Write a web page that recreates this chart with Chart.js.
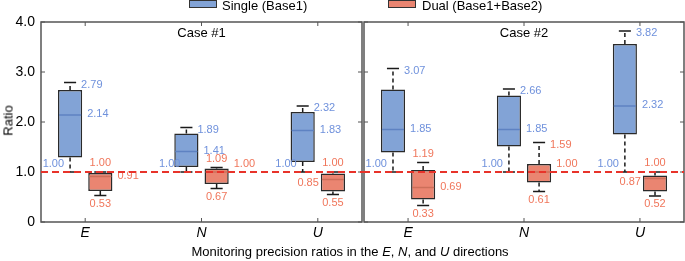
<!DOCTYPE html>
<html>
<head>
<meta charset="utf-8">
<script src="https://cdn.jsdelivr.net/npm/chart.js@4"></script>
<style>
  html, body { margin:0; padding:0; background:#fff; }
  body { width:685px; height:261px; position:relative; overflow:hidden; font-family:"Liberation Sans", Arial, sans-serif; color:#000; }
  canvas { position:absolute; top:0; }
  .t { position:absolute; white-space:nowrap; font-size:13px; line-height:15px; }
  .lgbox { position:absolute; top:0; width:26px; height:6px; border:1px solid #333; }
</style>
</head>
<body>
<canvas id="c1" width="363" height="261" style="left:0px"></canvas>
<canvas id="c2" width="322" height="261" style="left:363px"></canvas>

<div class="lgbox" style="left:189px;background:#82a3d6"></div>
<div class="t" style="left:222px;top:-2px">Single (Base1)</div>
<div class="lgbox" style="left:388px;background:#ea8571"></div>
<div class="t" style="left:422px;top:-2px">Dual (Base1+Base2)</div>

<div class="t" style="left:41px;width:321px;text-align:center;top:25px">Case #1</div>
<div class="t" style="left:364px;width:320px;text-align:center;top:25px">Case #2</div>
<div class="t" style="left:-22px;width:60px;text-align:center;top:113px;transform:rotate(-90deg)">Ratio</div>
<div class="t" style="left:0;width:700px;text-align:center;top:244px">Monitoring precision ratios in the <i>E</i>, <i>N</i>, and <i>U</i> directions</div>

<script>
// ---------- data ----------
const categories = ['E', 'N', 'U'];
const yTickLabels = ['0', '1.0', '2.0', '3.0', '4.0'];

// Case #1
const case1SingleMin = [1.00, 1.00, 1.00];
const case1SingleQ1  = [1.29, 1.10, 1.20];
const case1SingleMed = [2.14, 1.41, 1.83];
const case1SingleQ3  = [2.64, 1.77, 2.20];
const case1SingleMax = [2.79, 1.89, 2.32];

const case1DualMin = [0.53, 0.67, 0.55];
const case1DualQ1  = [0.62, 0.76, 0.61];
const case1DualMed = [0.91, 1.00, 0.85];
const case1DualQ3  = [0.98, 1.07, 0.97];
const case1DualMax = [1.00, 1.09, 1.00];

// Case #2
const case2SingleMin = [1.00, 1.00, 1.00];
const case2SingleQ1  = [1.39, 1.51, 1.75];
const case2SingleMed = [1.85, 1.85, 2.32];
const case2SingleQ3  = [2.65, 2.53, 3.56];
const case2SingleMax = [3.07, 2.66, 3.82];

const case2DualMin = [0.33, 0.61, 0.52];
const case2DualQ1  = [0.45, 0.79, 0.61];
const case2DualMed = [0.69, 1.00, 0.87];
const case2DualQ3  = [1.04, 1.16, 0.93];
const case2DualMax = [1.19, 1.59, 1.00];

const referenceRatio = 1.0;

// ---------- label placement (layout, not data) ----------
// per box: [max label, median label, min label]
const singlePlacement = [['cap','right','left'], ['cap','right','left'], ['cap','right','left']];
const case1DualPlacement = [['above','right','below'], ['above','rightUp','below'], ['above','leftDown','below']];
const case2DualPlacement = [['above','right','below'], ['cap','rightUp','below'], ['above','leftDown','below']];

// ---------- styles ----------
const FILL = ['#82a3d6', '#ea8571'];
const MEDIAN = ['#5e82c2', '#cc6f5a'];
const LABEL = ['#6f91dc', '#f0765b'];
const FONT = '"Liberation Sans", Arial, sans-serif';
Chart.defaults.font.family = FONT;

function boxPlugin(stats, placements, isFirst) {
  return {
    id: 'boxExtras',
    afterDatasetsDraw(chart) {
      const ctx = chart.ctx, ys = chart.scales.y;
      ctx.save();
      stats.forEach((s, d) => {
        const meta = chart.getDatasetMeta(d);
        meta.data.forEach((el, i) => {
          const cx = el.x, w = el.width, L = cx - w / 2, R = cx + w / 2;
          const pMin = ys.getPixelForValue(s.min[i]);
          const pQ1 = ys.getPixelForValue(s.q1[i]);
          const pMed = ys.getPixelForValue(s.med[i]);
          const pQ3 = ys.getPixelForValue(s.q3[i]);
          const pMax = ys.getPixelForValue(s.max[i]);
          // whiskers
          ctx.strokeStyle = '#1a1a1a';
          ctx.lineWidth = 1.5;
          ctx.setLineDash([4, 3]);
          ctx.beginPath();
          ctx.moveTo(cx, pQ3); ctx.lineTo(cx, pMax);
          ctx.moveTo(cx, pQ1); ctx.lineTo(cx, pMin);
          ctx.stroke();
          ctx.setLineDash([]);
          ctx.beginPath();
          ctx.moveTo(cx - w / 4, pMax); ctx.lineTo(cx + w / 4, pMax);
          ctx.moveTo(cx - w / 4, pMin); ctx.lineTo(cx + w / 4, pMin);
          ctx.stroke();
          // median
          ctx.strokeStyle = MEDIAN[d];
          ctx.lineWidth = 1.5;
          ctx.beginPath();
          ctx.moveTo(L + 1, pMed); ctx.lineTo(R - 1, pMed);
          ctx.stroke();
          // labels
          ctx.fillStyle = LABEL[d];
          ctx.font = '11px ' + FONT;
          ctx.textBaseline = 'middle';
          const pl = placements[d][i];
          const items = [[s.max[i], pMax, pl[0]], [s.med[i], pMed, pl[1]], [s.min[i], pMin, pl[2]]];
          items.forEach(([v, p, mode]) => {
            const txt = v.toFixed(2);
            let x, y, align;
            switch (mode) {
              case 'cap': x = cx + w / 4 + 5; y = p + 2; align = 'left'; break;
              case 'right': x = R + 5; y = p - 1; align = 'left'; break;
              case 'rightUp': x = R + 5; y = p - 8; align = 'left'; break;
              case 'left': x = cx - 6; y = p - 8; align = 'right'; break;
              case 'leftDown': x = L - 2; y = p + 3; align = 'right'; break;
              case 'above': x = cx; y = p - 9; align = 'center'; break;
              case 'below': x = cx; y = p + 8; align = 'center'; break;
            }
            ctx.textAlign = align;
            ctx.fillText(txt, x, y);
          });
        });
      });
      ctx.restore();
    },
    afterDraw(chart) {
      const ctx = chart.ctx, a = chart.chartArea, ys = chart.scales.y, xs = chart.scales.x;
      ctx.save();
      // frame
      ctx.strokeStyle = '#555';
      ctx.lineWidth = 1.5;
      ctx.strokeRect(a.left, a.top, a.right - a.left, a.bottom - a.top);
      // inward ticks
      ctx.lineWidth = 1;
      ctx.beginPath();
      yTickLabels.forEach((t, k) => {
        const p = ys.getPixelForValue(k);
        ctx.moveTo(a.left, p); ctx.lineTo(a.left + 4, p);
        ctx.moveTo(a.right, p); ctx.lineTo(a.right - 4, p);
      });
      categories.forEach((c, k) => {
        const p = xs.getPixelForValue(k + 1);
        ctx.moveTo(p, a.top); ctx.lineTo(p, a.top + 4);
        ctx.moveTo(p, a.bottom); ctx.lineTo(p, a.bottom - 4);
      });
      ctx.stroke();
      // reference line
      const y1 = ys.getPixelForValue(referenceRatio);
      ctx.strokeStyle = '#e8332a';
      ctx.lineWidth = 2;
      ctx.setLineDash([7, 4]);
      ctx.beginPath();
      ctx.moveTo(isFirst ? a.left : 0, y1);
      ctx.lineTo(isFirst ? chart.width : a.right, y1);
      ctx.stroke();
      ctx.restore();
    }
  };
}

function makeChart(id, stats, placements, isFirst) {
  const datasets = stats.map((s, d) => ({
    label: d === 0 ? 'Single (Base1)' : 'Dual (Base1+Base2)',
    data: categories.map((c, i) => ({ x: i + 1, y: [s.q1[i], s.q3[i]] })),
    backgroundColor: FILL[d],
    borderColor: '#2a2a2a',
    borderWidth: 1.5,
    borderSkipped: false,
    categoryPercentage: 0.52,
    barPercentage: 0.8
  }));
  return new Chart(document.getElementById(id), {
    type: 'bar',
    data: { datasets },
    options: {
      responsive: false,
      animation: false,
      devicePixelRatio: 1,
      layout: { padding: { left: 0, right: 1, top: 22, bottom: 0 } },
      plugins: { legend: { display: false }, tooltip: { enabled: false } },
      scales: {
        x: {
          type: 'linear', min: 0.62, max: 3.38, offset: false,
          grid: { display: false, drawTicks: false }, border: { display: false },
          afterBuildTicks: s => { s.ticks = categories.map((c, i) => ({ value: i + 1 })); },
          ticks: { callback: v => categories[v - 1], font: { size: 14, style: 'italic' }, color: '#000', padding: 3, autoSkip: false, maxRotation: 0 },
          afterFit: s => { s.height = 39; }
        },
        y: {
          min: 0, max: 4,
          grid: { display: false, drawTicks: false }, border: { display: false },
          ticks: { stepSize: 1, display: isFirst, callback: (v, i) => yTickLabels[i], font: { size: 14 }, color: '#000', padding: 6 },
          afterFit: s => { s.width = isFirst ? 41 : 1; }
        }
      }
    },
    plugins: [boxPlugin(stats, placements, isFirst)]
  });
}

makeChart('c1', [
  { min: case1SingleMin, q1: case1SingleQ1, med: case1SingleMed, q3: case1SingleQ3, max: case1SingleMax },
  { min: case1DualMin, q1: case1DualQ1, med: case1DualMed, q3: case1DualQ3, max: case1DualMax }
], [singlePlacement, case1DualPlacement], true);

makeChart('c2', [
  { min: case2SingleMin, q1: case2SingleQ1, med: case2SingleMed, q3: case2SingleQ3, max: case2SingleMax },
  { min: case2DualMin, q1: case2DualQ1, med: case2DualMed, q3: case2DualQ3, max: case2DualMax }
], [singlePlacement, case2DualPlacement], false);
</script>
</body>
</html>
